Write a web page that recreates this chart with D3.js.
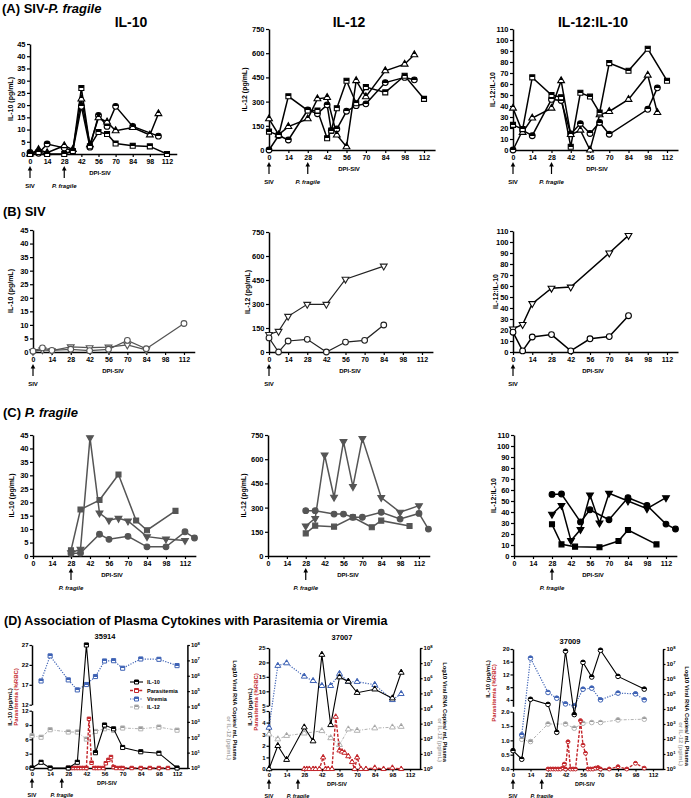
<!DOCTYPE html>
<html><head><meta charset="utf-8">
<script src="https://cdn.jsdelivr.net/npm/d3@7"></script>
<style>
body{margin:0;background:#fff}
svg text{font-family:"Liberation Sans",Arial,sans-serif;font-weight:bold}
</style></head><body>
<script>
// ---------- tick labels ----------
const DAYS = [0,14,28,42,56,70,84,98,112];
const TICKS_IL10 = [0,5,10,15,20,25,30,35,40,45];
const TICKS_IL12 = [0,150,300,450,600,750];
const TICKS_RATIO = [0,10,20,30,40,50,60,70,80,90,100,110];
const TICKS_LOG = [0,1,2,3,4,5,6,7,8];

// ---------- (A) SIV-P. fragile : [day, value] ----------
const A_IL10_sq   = [[0,0],[7,0.8],[14,0],[28,0],[35,1.2],[42,27],[49,3.2],[56,9],[63,8.2],[70,4.3],[84,3.4],[98,3.1],[112,0]];
const A_IL10_tri  = [[0,0],[7,1.8],[14,0.5],[28,3.4],[35,1.8],[42,22.5],[49,3.8],[56,14.8],[63,13.1],[70,9.5],[84,10.8],[98,7.8],[105,16.5]];
const A_IL10_circ = [[0,0.6],[7,0.3],[14,4.1],[28,2.5],[35,1.2],[42,19.5],[49,2.8],[56,15.8],[63,11.3],[70,19.5],[84,11.3],[105,7.3]];
const A_IL12_sq   = [[0,114],[7,92],[14,333],[28,245],[35,245],[42,73],[45,120],[49,259],[56,429],[63,290],[70,390],[84,357],[98,460],[112,317]];
const A_IL12_tri  = [[0,193],[7,95],[14,145],[28,193],[35,317],[42,325],[49,93],[56,20],[63,430],[70,330],[84,491],[98,532],[105,590]];
const A_IL12_circ = [[0,0],[7,90],[14,62],[28,248],[35,225],[42,280],[45,120],[49,130],[56,240],[63,275],[70,286],[84,418],[98,450],[105,435]];
const A_RAT_sq    = [[0,22.8],[7,19],[14,66],[28,50],[35,48],[42,3],[49,52],[56,48.6],[63,34],[70,79],[84,72],[98,92],[112,63]];
const A_RAT_tri   = [[0,38],[7,16],[14,29],[28,38],[35,63],[42,14],[49,18],[56,0],[63,32],[70,35],[84,46],[98,68],[105,34]];
const A_RAT_circ  = [[0,0],[7,18],[14,13],[28,46],[35,45],[42,14.6],[49,24],[56,15],[63,25],[70,14.3],[98,37],[105,56.5]];

// ---------- (B) SIV ----------
const B_IL10_circ = [[0,0.3],[7,1.5],[14,0.6],[28,1.0],[42,0.5],[56,1.0],[70,4.3],[84,1.2],[112,10.5]];
const B_IL10_tri  = [[0,0.2],[7,0.8],[14,0.5],[28,1.9],[42,1.6],[56,1.8],[70,2.6],[84,0.8]];
const B_IL12_tri  = [[0,110],[7,129],[14,223],[28,298],[42,298],[56,455],[84,537]];
const B_IL12_circ = [[0,88],[7,0],[14,69],[28,79],[42,0],[56,62],[70,73],[84,169]];
const B_RAT_tri   = [[0,21],[7,25],[14,44],[28,58],[42,59],[70,90],[84,106]];
const B_RAT_circ  = [[0,18],[7,1],[14,13.6],[28,15.8],[42,1],[56,12],[70,14],[84,33]];

// ---------- (C) P. fragile ----------
const C_IL10_tri  = [[28,1.2],[35,2.5],[42,44],[49,16],[56,13.3],[63,14],[70,13],[84,7.2],[98,6.3],[112,5.8]];
const C_IL10_sq   = [[28,2.1],[35,17.3],[49,20.8],[63,30.3],[76,13.2],[84,9.6],[105,16.8]];
const C_IL10_circ = [[28,0.9],[35,1.1],[49,8.1],[56,6.2],[70,7.3],[84,3.4],[98,3.4],[112,9.0],[119,6.7]];
const C_IL12_tri  = [[28,186],[35,233],[42,626],[49,364],[56,709],[63,430],[70,729],[84,362],[98,271],[112,312]];
const C_IL12_circ = [[28,281],[35,281],[49,260],[56,260],[63,240],[70,240],[84,271],[98,229],[112,264],[119,167]];
const C_IL12_sq   = [[28,140],[35,188],[49,182],[63,240],[77,178],[84,219],[105,186]];
const C_RAT_circ  = [[28,56],[35,56.4],[49,31],[56,42],[70,33],[84,53],[98,46],[112,29],[119,24.5]];
const C_RAT_tri   = [[28,38],[35,46],[42,14],[49,24],[56,55.5],[63,30],[70,57],[84,50],[98,43],[112,53]];
const C_RAT_sq    = [[28,28.8],[35,10.6],[45,8.5],[63,7.9],[77,13.6],[84,23.6],[105,10.6]];

// ---------- (D) per animal: IL-10 (pg/mL), parasitemia (%RBC), viremia & IL-12 (log10) ----------
const D1_IL10  = [[0,0],[7,1.2],[14,0],[28,0],[35,1.2],[42,27],[49,3.2],[56,9],[63,8.2],[70,4.3],[84,3.4],[98,3.1],[112,0]];
const D1_PARA  = [[28,0],[30,0],[32,0],[34,0],[36,0],[38,0],[40,0],[42,0],[44,10.3],[46,1.1],[48,0],[50,0],[52,0],[55,0],[57,1.0],[59,1.7],[61,2.3],[63,0.2],[65,0],[68,0],[70,0],[77,0],[84,0],[91,0],[98,0],[105,0]];
const D1_VIR   = [[7,5.66],[14,7.29],[28,5.73],[35,5.08],[42,5.43],[49,5.95],[56,6.96],[63,6.98],[70,6.49],[84,7.09],[98,7.07],[112,6.66]];
const D1_IL12  = [[0,2.1],[7,2.0],[14,2.49],[28,2.34],[35,2.34],[42,1.88],[49,2.38],[56,2.55],[63,2.44],[70,2.6],[84,2.55],[98,2.66],[112,2.46]];

const D2_IL10  = [[0,0],[7,2.0],[14,0.8],[28,3.6],[35,2.4],[42,22.7],[49,3.8],[56,14.9],[63,13.4],[70,9.5],[84,10.7],[98,7.6],[105,16.5]];
const D2_PARA  = [[28,0],[30,0],[32,0],[35,0],[37,0],[40,0],[43,1.0],[45,0],[47,0],[50,0],[53,4.5],[56,1.6],[58,1.5],[60,1.4],[63,1.1],[66,0.6],[68,0],[70,1.0],[73,0],[77,0],[84,0.1],[91,0],[98,0.1],[105,0]];
const D2_VIR   = [[0,2.74],[7,6.83],[14,7.0],[28,6.12],[35,5.83],[42,5.5],[49,5.5],[56,6.3],[63,5.77],[70,5.77],[84,5.57],[98,4.57],[105,4.97]];
const D2_IL12  = [[0,2.3],[7,1.97],[14,2.2],[28,2.36],[42,2.52],[49,2.05],[56,1.6],[63,2.63],[70,2.54],[84,2.7],[98,2.76],[105,2.8]];

const D3_IL10  = [[0,0.64],[7,0.34],[14,4.2],[28,2.6],[35,1.28],[42,19.3],[49,1.9],[56,15.8],[63,11.2],[70,19.6],[84,11.4],[105,7.4]];
const D3_PARA  = [[28,0],[30,0],[32,0],[34,0],[36,0],[38,0],[40,0.04],[41,0.17],[42,0],[44,0.95],[46,0],[48,0],[50,0],[54,1.69],[56,0.83],[58,0.55],[60,0],[62,0],[64,0],[66,0.03],[68,0.05],[70,0],[77,0],[84,0.08],[91,0],[98,0.2],[105,0.03]];
const D3_VIR   = [[7,2.27],[14,7.39],[28,5.1],[35,4.72],[42,4.34],[49,4.21],[56,5.32],[63,5.39],[70,4.61],[84,5.06],[98,5.01],[105,4.61]];
const D3_IL12  = [[7,1.98],[14,1.83],[28,3.0],[42,3.0],[49,2.72],[56,3.05],[63,3.1],[70,3.1],[84,3.27],[105,3.32]];

const LEGEND = ['IL-10','Parasitemia','Viremia','IL-12'];

// ---------- drawing ----------
const FONT = '"Liberation Sans", Arial, sans-serif';
const RED = '#c3262b', BLUE = '#3f63b5', LGRAY = '#b3b3b3', DGRAY = '#555';
const svg = d3.select('body').append('svg').attr('width',691).attr('height',798).style('display','block');
svg.append('rect').attr('width',691).attr('height',798).attr('fill','#fff');
const defs = svg.append('defs');
function halfGrad(id,color){
  const g = defs.append('linearGradient').attr('id',id).attr('x1',0).attr('y1',0).attr('x2',0).attr('y2',1);
  g.append('stop').attr('offset','50%').attr('stop-color',color);
  g.append('stop').attr('offset','50%').attr('stop-color','#fff');
}
halfGrad('hk','#000'); halfGrad('hr',RED); halfGrad('hb',BLUE); halfGrad('hg','#999');

const SYM = {circle:d3.symbolCircle, square:d3.symbolSquare, triangle:d3.symbolTriangle, down:d3.symbolTriangle};
const SIZE = {circle:26, square:25, triangle:20, down:20};

function txt(g,x,y,s,o={}){
  const t = g.append('text').attr('x',x).attr('y',y).attr('font-size',o.fs||7)
    .attr('text-anchor',o.anchor||'middle').attr('fill',o.fill||'#000').attr('font-weight','bold')
    .attr('font-family',FONT).text(s);
  if (o.italic) t.attr('font-style','italic');
  if (o.rot!=null) t.attr('transform',`rotate(${o.rot},${x},${y})`);
  return t;
}
function styleAxis(sel, fs){
  sel.attr('font-family',FONT).attr('font-size',fs);
  sel.select('.domain').attr('stroke','#000').attr('stroke-width',1.5);
  sel.selectAll('.tick line').attr('stroke','#000').attr('stroke-width',1.2);
  sel.selectAll('.tick text').attr('fill','#000').attr('font-weight','bold');
}
function markers(g,data,xs,ys,shape,fill,stroke,sw,size){
  g.selectAll(null).data(data).enter().append('path')
    .attr('d', d3.symbol().type(SYM[shape]).size(size||SIZE[shape]))
    .attr('transform', d=>`translate(${xs(d[0])},${ys(d[1])})${shape==='down'?' rotate(180)':''}`)
    .attr('fill',fill).attr('stroke',stroke).attr('stroke-width',sw);
}
function arrow(g,x,yb,yt){
  g.append('line').attr('x1',x).attr('x2',x).attr('y1',yb).attr('y2',yt+3).attr('stroke','#000').attr('stroke-width',1.2);
  g.append('path').attr('d',`M${x},${yt} l-2.3,4.5 l4.6,0 z`).attr('fill','#000');
}

function panel(p){
  const g = svg.append('g');
  const x = d3.scaleLinear().domain([0,120]).range([p.x0, p.x0+120*p.ppd]);
  const y = d3.scaleLinear().domain([0,p.yMax]).range([p.y0,p.yTop]);
  const ax = g.append('g').attr('transform',`translate(0,${p.y0})`)
    .call(d3.axisBottom(x).tickValues(DAYS).tickSize(3).tickSizeOuter(0).tickPadding(2));
  styleAxis(ax,7);
  const ay = g.append('g').attr('transform',`translate(${p.x0},0)`)
    .call(d3.axisLeft(y).tickValues(p.yTicks).tickSize(3).tickSizeOuter(0).tickPadding(1.5));
  styleAxis(ay,7.5);
  const line = d3.line().x(d=>x(d[0])).y(d=>y(d[1]));
  p.series.forEach(s=>{
    g.append('path').datum(s.data).attr('d',line).attr('fill','none').attr('stroke',s.color).attr('stroke-width',p.lw||1.5);
  });
  p.series.forEach(s=>{
    markers(g,s.data,x,y,s.shape,s.fill,s.color,1.1);
  });
  if (p.title) txt(g,p.titleX,27,p.title,{fs:14});
  txt(g,p.ytX+2.5,(p.y0+p.yTop)/2,p.yt,{fs:7,rot:-90});
  txt(g,p.dpiX,p.y0+21,'DPI-SIV',{fs:6});
  if (p.siv){ arrow(g,x(0),p.y0+24,p.y0+12); txt(g,x(0),p.y0+34,'SIV',{fs:6}); }
  if (p.pf){ arrow(g,x(28),p.y0+24,p.y0+12); txt(g,x(28),p.y0+34,'P. fragile',{fs:6,italic:true}); }
}

// headers
function header(x,y,parts,fs){
  const t = svg.append('text').attr('x',x).attr('y',y).attr('font-size',fs).attr('font-weight','bold').attr('font-family',FONT);
  parts.forEach(([s,it])=>t.append('tspan').attr('font-style',it?'italic':'normal').text(s));
}
header(2,13,[['(A) SIV-',0],['P. fragile',1]],13);
header(3,216,[['(B) SIV',0]],13);
header(3,417,[['(C) ',0],['P. fragile',1]],13);
header(4,625,[['(D) Association of Plasma Cytokines with Parasitemia or Viremia',0]],12.5);

const K='#000', HK='url(#hk)';
// Row A
panel({x0:30,ppd:1.223,yTop:44,y0:154,yMax:45,yTicks:TICKS_IL10,title:'IL-10',titleX:131,yt:'IL-10 (pg/mL)',ytX:10,dpiX:100,siv:1,pf:1,
  series:[{data:A_IL10_circ,shape:'circle',color:K,fill:HK},{data:A_IL10_tri,shape:'triangle',color:K,fill:HK},{data:A_IL10_sq,shape:'square',color:K,fill:HK}]});
panel({x0:269,ppd:1.384,yTop:29,y0:150,yMax:750,yTicks:TICKS_IL12,title:'IL-12',titleX:349,yt:'IL-12 (pg/mL)',ytX:244,dpiX:349,siv:1,pf:1,
  series:[{data:A_IL12_circ,shape:'circle',color:K,fill:HK},{data:A_IL12_tri,shape:'triangle',color:K,fill:HK},{data:A_IL12_sq,shape:'square',color:K,fill:HK}]});
panel({x0:513,ppd:1.375,yTop:29,y0:150,yMax:110,yTicks:TICKS_RATIO,title:'IL-12:IL-10',titleX:593,yt:'IL-12:IL-10',ytX:492,dpiX:597,siv:1,pf:1,
  series:[{data:A_RAT_circ,shape:'circle',color:K,fill:HK},{data:A_RAT_tri,shape:'triangle',color:K,fill:HK},{data:A_RAT_sq,shape:'square',color:K,fill:HK}]});
// Row B
panel({x0:33,ppd:1.348,yTop:230,y0:352,yMax:45,yTicks:TICKS_IL10,yt:'IL-10 (pg/mL)',ytX:10,dpiX:113,siv:1,lw:1.2,
  series:[{data:B_IL10_tri,shape:'down',color:DGRAY,fill:'#fff'},{data:B_IL10_circ,shape:'circle',color:DGRAY,fill:'#fff'}]});
panel({x0:269,ppd:1.366,yTop:232,y0:352,yMax:750,yTicks:TICKS_IL12,yt:'IL-12 (pg/mL)',ytX:247,dpiX:350,siv:1,lw:1.2,
  series:[{data:B_IL12_tri,shape:'down',color:'#222',fill:'#fff'},{data:B_IL12_circ,shape:'circle',color:'#222',fill:'#fff'}]});
panel({x0:513,ppd:1.375,yTop:231,y0:352,yMax:110,yTicks:TICKS_RATIO,yt:'IL-12:IL-10',ytX:495,dpiX:593,siv:1,
  series:[{data:B_RAT_tri,shape:'down',color:K,fill:'#fff'},{data:B_RAT_circ,shape:'circle',color:K,fill:'#fff'}]});
// Row C
panel({x0:33,ppd:1.357,yTop:435,y0:556,yMax:45,yTicks:TICKS_IL10,yt:'IL-10 (pg/mL)',ytX:11,dpiX:112,pf:1,
  series:[{data:C_IL10_tri,shape:'down',color:DGRAY,fill:DGRAY},{data:C_IL10_sq,shape:'square',color:DGRAY,fill:DGRAY},{data:C_IL10_circ,shape:'circle',color:DGRAY,fill:DGRAY}]});
panel({x0:268,ppd:1.348,yTop:435,y0:556,yMax:750,yTicks:TICKS_IL12,yt:'IL-12 (pg/mL)',ytX:243,dpiX:348,pf:1,
  series:[{data:C_IL12_tri,shape:'down',color:DGRAY,fill:DGRAY},{data:C_IL12_circ,shape:'circle',color:DGRAY,fill:DGRAY},{data:C_IL12_sq,shape:'square',color:DGRAY,fill:DGRAY}]});
panel({x0:514,ppd:1.357,yTop:435,y0:556,yMax:110,yTicks:TICKS_RATIO,yt:'IL-12:IL-10',ytX:493,dpiX:593,pf:1,
  series:[{data:C_RAT_circ,shape:'circle',color:K,fill:K},{data:C_RAT_tri,shape:'down',color:K,fill:K},{data:C_RAT_sq,shape:'square',color:K,fill:K}]});

// Row D
function dPanel(p){
  const g = svg.append('g');
  const x = d3.scaleLinear().domain([0,120]).range([p.x0, p.x0+120*p.ppd]);
  const yLo = d3.scaleLinear().domain([0,p.brk]).range([p.y0,p.loTop]);
  const yHi = d3.scaleLinear().domain([p.brk,p.max]).range([p.hiBot,p.top]);
  const yL = v => v<=p.brk ? yLo(v) : yHi(v);
  const yR = d3.scaleLinear().domain([0,8]).range([p.y0,p.top]);
  const xr = x(120);
  const ax = g.append('g').attr('transform',`translate(0,${p.y0})`)
    .call(d3.axisBottom(x).tickValues(DAYS).tickSize(2.5).tickSizeOuter(0).tickPadding(1.5));
  styleAxis(ax,6);
  const al = g.append('g').attr('transform',`translate(${p.x0},0)`)
    .call(d3.axisLeft(yLo).tickValues(p.loTicks).tickFormat(p.loFmt||(d=>d)).tickSize(2.5).tickSizeOuter(0).tickPadding(1));
  styleAxis(al,6);
  const ah = g.append('g').attr('transform',`translate(${p.x0},0)`)
    .call(d3.axisLeft(yHi).tickValues(p.hiTicks).tickSize(2.5).tickSizeOuter(0).tickPadding(1));
  styleAxis(ah,6);
  const ar = g.append('g').attr('transform',`translate(${xr},0)`)
    .call(d3.axisRight(yR).tickValues(TICKS_LOG).tickSize(2.5).tickSizeOuter(0).tickPadding(1));
  styleAxis(ar,6);
  ar.selectAll('.tick text').each(function(d){
    const t = d3.select(this); t.text('10');
    t.append('tspan').attr('dy',-2.5).attr('font-size',4.2).text(d);
  });
  const lineL = d3.line().x(d=>x(d[0])).y(d=>yL(d[1]));
  const lineR = d3.line().x(d=>x(d[0])).y(d=>yR(d[1]));
  const sh = p.shape;
  const ms = sh==='triangle' ? 15 : 17;
  g.append('path').datum(p.il12).attr('d',lineR).attr('fill','none').attr('stroke',LGRAY).attr('stroke-width',1).attr('stroke-dasharray','3,1.5,1,1.5');
  markers(g,p.il12,x,yR,sh,'url(#hg)',LGRAY,1,ms);
  g.append('path').datum(p.vir).attr('d',lineR).attr('fill','none').attr('stroke',BLUE).attr('stroke-width',1.2).attr('stroke-dasharray','1.2,1.4');
  markers(g,p.vir,x,yR,sh,'url(#hb)',BLUE,1,ms);
  g.append('path').datum(p.para).attr('d',lineL).attr('fill','none').attr('stroke',RED).attr('stroke-width',1.4).attr('stroke-dasharray','3,1.6');
  markers(g,p.para,x,yL,sh,'url(#hr)',RED,1,12);
  g.append('path').datum(p.il10).attr('d',lineL).attr('fill','none').attr('stroke','#000').attr('stroke-width',1.1);
  markers(g,p.il10,x,yL,sh,'url(#hk)','#000',1,ms);
  txt(g,p.titleX,p.titleY,p.title,{fs:7.5});
  txt(g,p.x0-p.ltOff,p.blackC,'IL-10 (pg/mL)',{fs:6,rot:-90});
  txt(g,p.x0-p.ltOff+5.5,p.redC,'Parasitemia (%RBC)',{fs:6,rot:-90,fill:RED});
  txt(g,xr+p.rtOff,p.rtEnd,'Log10 Viral RNA Copies/ mL Plasma',{fs:5.8,rot:90,anchor:'end'});
  txt(g,xr+p.rtOff-5.5,p.rtEnd,'or IL-12 (pg/mL)',{fs:5.8,rot:90,anchor:'end',fill:'#aaa'});
  txt(g,p.dpiX,p.y0+16.5,'DPI-SIV',{fs:5.5});
  arrow(g,x(0),p.y0+20,p.y0+10); txt(g,x(0),p.y0+28.5,'SIV',{fs:5.5});
  arrow(g,x(23),p.y0+20,p.y0+10); txt(g,x(23),p.y0+28.5,'P. fragile',{fs:5.5,italic:true});
  if (p.legend){
    const items = [['#000','url(#hk)',null,1.1],[RED,'url(#hr)','3,1.6',1.3],[BLUE,'url(#hb)','1.2,1.4',1.2],[LGRAY,'url(#hg)','3,1.5,1,1.5',1]];
    const ly = [682,690.5,699,707];
    items.forEach((it,i)=>{
      g.append('line').attr('x1',130).attr('x2',143).attr('y1',ly[i]).attr('y2',ly[i]).attr('stroke',it[0]).attr('stroke-width',it[3]).attr('stroke-dasharray',it[2]);
      g.append('path').attr('d',d3.symbol().type(d3.symbolSquare).size(16)).attr('transform',`translate(136.5,${ly[i]})`).attr('fill',it[1]).attr('stroke',it[0]).attr('stroke-width',1);
      txt(g,147,ly[i]+2,LEGEND[i],{fs:5.5,anchor:'start'});
    });
  }
}
dPanel({x0:32,ppd:1.295,top:645,y0:768,brk:12,max:27,loTop:710.7,hiBot:704.7,loTicks:[0,3,6,9,12],hiTicks:[12,17,22,27],
  shape:'square',il10:D1_IL10,para:D1_PARA,vir:D1_VIR,il12:D1_IL12,title:'35914',titleX:105,titleY:639,
  ltOff:20,blackC:707,redC:697,rtOff:45.5,rtEnd:760,dpiX:107,legend:true});
dPanel({x0:269,ppd:1.259,top:648,y0:769,brk:5,max:25,loTop:711,hiBot:705.7,loTicks:[0,1,2,3,4,5],hiTicks:[5,10,15,20,25],
  shape:'triangle',il10:D2_IL10,para:D2_PARA,vir:D2_VIR,il12:D2_IL12,title:'37007',titleX:342,titleY:640,
  ltOff:17,blackC:707,redC:702,rtOff:23,rtEnd:762,dpiX:337});
dPanel({x0:513,ppd:1.25,top:649,y0:769,brk:2,max:20,loTop:711.7,hiBot:706.3,loTicks:[0,0.5,1,1.5,2],loFmt:d3.format('.1f'),hiTicks:[4,8,12,16,20],
  shape:'circle',il10:D3_IL10,para:D3_PARA,vir:D3_VIR,il12:D3_IL12,title:'37009',titleX:570,titleY:644,
  ltOff:23,blackC:679,redC:693,rtOff:21.5,rtEnd:766,dpiX:585});
</script>
</body></html>
